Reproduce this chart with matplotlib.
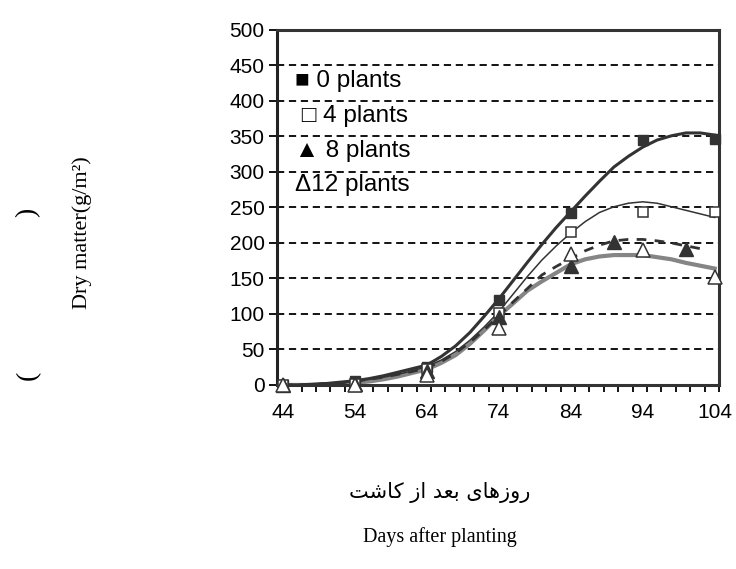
#!/usr/bin/env python
# -*- coding: utf-8 -*-
"""Dry matter accumulation vs days after planting, by weed density."""
import numpy as np
import matplotlib.pyplot as plt

# observed points
obs_days = [44, 54, 64, 74, 84, 94, 104]
obs_0 = [0, 5, 25, 120, 242, 345, 347]
obs_4 = [0, 2, 22, 101, 215, 243, 244]
obs_8_days = [44, 54, 64, 74, 84, 90, 100]
obs_8 = [0, 2, 20, 96, 168, 201, 191]
obs_12 = [0, 0, 14, 80, 184, 190, 152]

# fitted curves, every 2 days
fit_days = list(range(44, 105, 2))
fit_0 = [0, 0, 1, 2, 4, 6, 9, 13, 18, 23, 28, 40, 55, 74, 97, 121,
         147, 173, 198, 222, 244, 266, 287, 307, 322, 335, 345, 351, 355, 355, 352]
fit_4 = [0, 0, 1, 2, 3, 5, 8, 11, 15, 20, 26, 35, 47, 63, 82, 103,
         128, 153, 176, 196, 214, 230, 243, 251, 256, 258, 256, 251, 246, 241, 236]
fit_8_days = list(range(44, 103, 2))
fit_8 = [0, 0, 1, 2, 3, 5, 8, 11, 15, 19, 24, 33, 45, 60, 78, 97,
         117, 136, 155, 167, 178, 189, 197, 203, 205, 205, 203, 200, 196, 192]
fit_12 = [0, 0, 0, 1, 2, 3, 5, 8, 12, 17, 22, 31, 42, 58, 77, 97,
          115, 133, 146, 158, 170, 177, 181, 183, 183, 183, 180, 177, 172, 168, 164]

yticks = list(range(0, 501, 50))
xticks = list(range(44, 105, 10))
legend_rows = ["\u25A0 0 plants", " \u25A1 4 plants", "\u25B2 8 plants", "\u039412 plants"]

# Persian axis title in presentation forms (matplotlib does no shaping)
fa_xlabel = ("\uFEAD\uFEED\uFEAF\uFEEB\uFE8E\uFEEF \uFE91\uFECC\uFEAA "
             "\uFE8D\uFEAF \uFB90\uFE8E\uFEB7\uFE96")[::-1]

DARK = "#333333"
GRAY = "#858585"
sans = ["Liberation Sans", "DejaVu Sans"]
serif = ["Liberation Serif", "DejaVu Serif"]

fig = plt.figure(figsize=(7.36, 5.69), dpi=100)
ax = fig.add_axes([0.3764, 0.3234, 0.6005, 0.6239])

ax.plot(fit_days, fit_12, color=GRAY, lw=3.0, zorder=2)
ax.plot(fit_8_days, fit_8, color=DARK, lw=2.0, ls=(0, (3.5, 3)), zorder=3)
ax.plot(fit_days, fit_4, color=DARK, lw=1.1, zorder=3)
ax.plot(fit_days, fit_0, color=DARK, lw=2.2, zorder=3)

ax.plot(obs_days, obs_0, "s", ms=7, color=DARK, ls="none", zorder=5, clip_on=False)
ax.plot(obs_days, obs_4, "s", ms=7.5, mfc="white", mec=DARK, mew=1.1, ls="none",
        zorder=5, clip_on=False)
ax.plot(obs_8_days, obs_8, "^", ms=10, color=DARK, ls="none", zorder=5, clip_on=False)
ax.plot(obs_days, obs_12, "^", ms=10, mfc="white", mec=DARK, mew=1.1, ls="none",
        zorder=6, clip_on=False)

ax.set_xlim(43.2, 104.6)
ax.set_ylim(0, 500)
ax.set_yticks(yticks)
ax.set_xticks(xticks)
ax.set_xticks(np.arange(104.6, 44, -2), minor=True)
ax.tick_params(axis="x", which="major", length=0, pad=13)
ax.tick_params(axis="x", which="minor", length=5, width=1.3, color="black")
ax.tick_params(axis="y", length=6, width=1.3, pad=3)
for lab in ax.get_xticklabels() + ax.get_yticklabels():
    lab.set_family(sans)
    lab.set_fontsize(15)

for y in yticks[1:-1]:
    ax.axhline(y, color="black", lw=1.3, ls=(0, (4, 2.6)), zorder=1)

for side, sp in ax.spines.items():
    sp.set_linewidth(2.2)
    sp.set_color("#222222" if side == "left" else DARK)

# hand-made legend
for i, row in enumerate(legend_rows):
    ax.text(0.04, 0.856 - i * 0.098, row, transform=ax.transAxes, family=sans,
            fontsize=17.5, va="center", ha="left")

fig.text(0.111, 0.592, "Dry matter(g/m\u00B2)", rotation=90, family=serif,
         fontsize=16, ha="center", va="center")
fig.text(0.038, 0.627, ")", rotation=90, family=serif, fontsize=20,
         ha="center", va="center")
fig.text(0.038, 0.341, "(", rotation=90, family=serif, fontsize=20,
         ha="center", va="center")

fig.text(0.598, 0.134, fa_xlabel, family=["DejaVu Sans"], fontsize=15,
         ha="center", va="center")
fig.text(0.598, 0.056, "Days after planting", family=serif, fontsize=14.5,
         ha="center", va="center")

fig.savefig("out.png", dpi=100)
